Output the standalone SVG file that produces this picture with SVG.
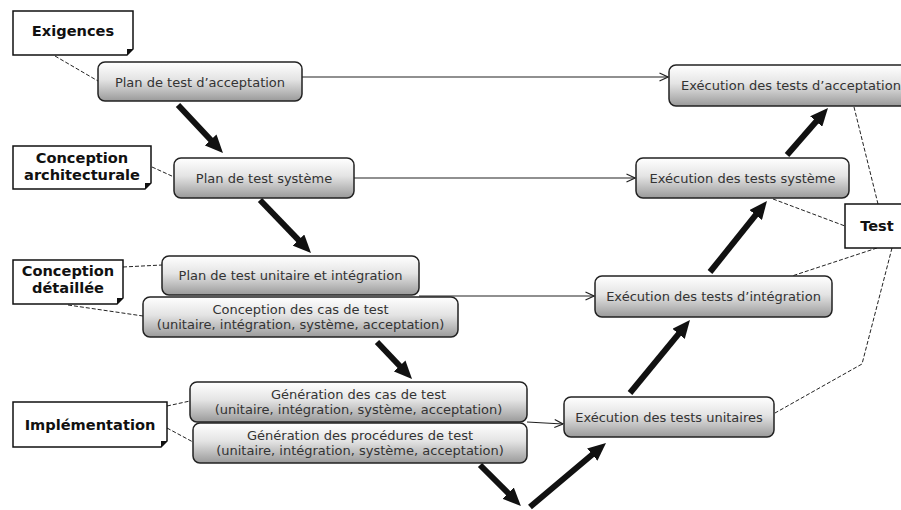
<svg xmlns="http://www.w3.org/2000/svg" width="901" height="510" viewBox="0 0 901 510">
<defs>
<linearGradient id="g" x1="0" y1="0" x2="0" y2="1">
<stop offset="0" stop-color="#ffffff"/>
<stop offset="0.45" stop-color="#e4e4e4"/>
<stop offset="1" stop-color="#9a9a9a"/>
</linearGradient>
<marker id="big" viewBox="0 0 18 16" markerWidth="18" markerHeight="16" markerUnits="userSpaceOnUse" refX="4" refY="8" orient="auto">
<path d="M0,0 L18,8 L0,16 z" fill="#111"/>
</marker>
<marker id="open" viewBox="0 0 10 10" markerWidth="10" markerHeight="10" markerUnits="userSpaceOnUse" refX="9.5" refY="5" orient="auto">
<path d="M1,1 L9.5,5 L1,9" fill="none" stroke="#222" stroke-width="1.2"/>
</marker>
</defs>
<style>
.node rect{fill:url(#g);stroke:#222;stroke-width:1.5}
.node text{font-family:"DejaVu Sans",Verdana,sans-serif;font-size:13px;fill:#333;text-anchor:middle}
.lbl .box{fill:#fff;stroke:#111;stroke-width:1.5}
.lbl .ear{fill:#111}
.lbl text{font-family:"DejaVu Sans",Verdana,sans-serif;font-size:14.6px;font-weight:bold;fill:#111;text-anchor:middle}
.thick{stroke:#111;stroke-width:6;fill:none;marker-end:url(#big)}
.thin{stroke:#222;stroke-width:1.2;fill:none;marker-end:url(#open)}
.dash{stroke:#222;stroke-width:1;fill:none;stroke-dasharray:4,2}
</style>
<rect width="901" height="510" fill="#fff"/>

<g id="connectors">
<line class="thin" x1="302" y1="77" x2="668" y2="77"/>
<line class="thin" x1="354" y1="178" x2="635" y2="178"/>
<line class="thin" x1="419" y1="296" x2="594" y2="296"/>
<line class="thin" x1="527" y1="422" x2="563" y2="424"/>
<line class="thick" x1="178" y1="105" x2="213.4" y2="142.8"/>
<line class="thick" x1="260" y1="200" x2="301.3" y2="242.9"/>
<line class="thick" x1="377" y1="342" x2="402.4" y2="368.8"/>
<line class="thick" x1="480" y1="465" x2="511" y2="496"/>
<line class="thick" x1="530" y1="507" x2="595.3" y2="452"/>
<line class="thick" x1="630" y1="393" x2="681.1" y2="330.8"/>
<line class="thick" x1="710" y1="272" x2="758.2" y2="211.9"/>
<line class="thick" x1="787" y1="155" x2="818.8" y2="118.5"/>
<line class="dash" x1="55" y1="56" x2="98" y2="81"/>
<line class="dash" x1="152" y1="167" x2="174" y2="177"/>
<line class="dash" x1="123" y1="267" x2="162" y2="265"/>
<line class="dash" x1="68" y1="305" x2="143" y2="316"/>
<line class="dash" x1="167" y1="406" x2="190" y2="401"/>
<line class="dash" x1="167" y1="428" x2="193" y2="442"/>
<line class="dash" x1="854" y1="107" x2="878" y2="204"/>
<line class="dash" x1="773" y1="199" x2="845" y2="226"/>
<line class="dash" x1="877" y1="248" x2="792" y2="276"/>
<polyline class="dash" points="892,248 862,364 775,413"/>
</g>

<g id="n-plan-acceptation" class="node"><rect x="98" y="62" width="204" height="39" rx="7"/><text x="200" y="86.5">Plan de test d’acceptation</text></g>
<g id="n-plan-systeme" class="node"><rect x="174" y="158" width="180" height="40" rx="7"/><text x="264" y="183">Plan de test système</text></g>
<g id="n-plan-unitaire" class="node"><rect x="162" y="256" width="257" height="39" rx="7"/><text x="290.5" y="280">Plan de test unitaire et intégration</text></g>
<g id="n-conception-cas" class="node"><rect x="143" y="297" width="315" height="40" rx="7"/><text x="300.5" y="313.5">Conception des cas de test</text><text x="300.5" y="329">(unitaire, intégration, système, acceptation)</text></g>
<g id="n-generation-cas" class="node"><rect x="190" y="382" width="337" height="40" rx="7"/><text x="358.5" y="398.5">Génération des cas de test</text><text x="358.5" y="414">(unitaire, intégration, système, acceptation)</text></g>
<g id="n-generation-proc" class="node"><rect x="193" y="423" width="334" height="40" rx="7"/><text x="360" y="439.5">Génération des procédures de test</text><text x="360" y="455">(unitaire, intégration, système, acceptation)</text></g>
<g id="n-exec-acceptation" class="node"><rect x="669" y="65" width="244" height="41" rx="7"/><text x="791" y="89.5">Exécution des tests d’acceptation</text></g>
<g id="n-exec-systeme" class="node"><rect x="636" y="158" width="213" height="40" rx="7"/><text x="742.5" y="182.5">Exécution des tests système</text></g>
<g id="n-exec-integration" class="node"><rect x="595" y="276" width="237" height="41" rx="7"/><text x="713.5" y="301">Exécution des tests d’intégration</text></g>
<g id="n-exec-unitaires" class="node"><rect x="564" y="397" width="210" height="40" rx="7"/><text x="669" y="421.5">Exécution des tests unitaires</text></g>

<g id="l-exigences" class="lbl"><path class="box" d="M13,11 H133 V49 L127,55 H13 Z"/><path class="ear" d="M133,49 L127,55 L127,49 Z"/><text x="73" y="35.5">Exigences</text></g>
<g id="l-conception-arch" class="lbl"><path class="box" d="M13,146 H151 V183 L145,189 H13 Z"/><path class="ear" d="M151,183 L145,189 L145,183 Z"/><text x="82" y="163">Conception</text><text x="82" y="180">architecturale</text></g>
<g id="l-conception-det" class="lbl"><path class="box" d="M13,260 H123 V298 L117,304 H13 Z"/><path class="ear" d="M123,298 L117,304 L117,298 Z"/><text x="68" y="276">Conception</text><text x="68" y="293">détaillée</text></g>
<g id="l-implementation" class="lbl"><path class="box" d="M13,402 H167 V441 L161,447 H13 Z"/><path class="ear" d="M167,441 L161,447 L161,441 Z"/><text x="90" y="430">Implémentation</text></g>
<g id="l-test" class="lbl"><rect class="box" x="845" y="204" width="60" height="44"/><text x="877" y="231">Test</text></g>
</svg>
